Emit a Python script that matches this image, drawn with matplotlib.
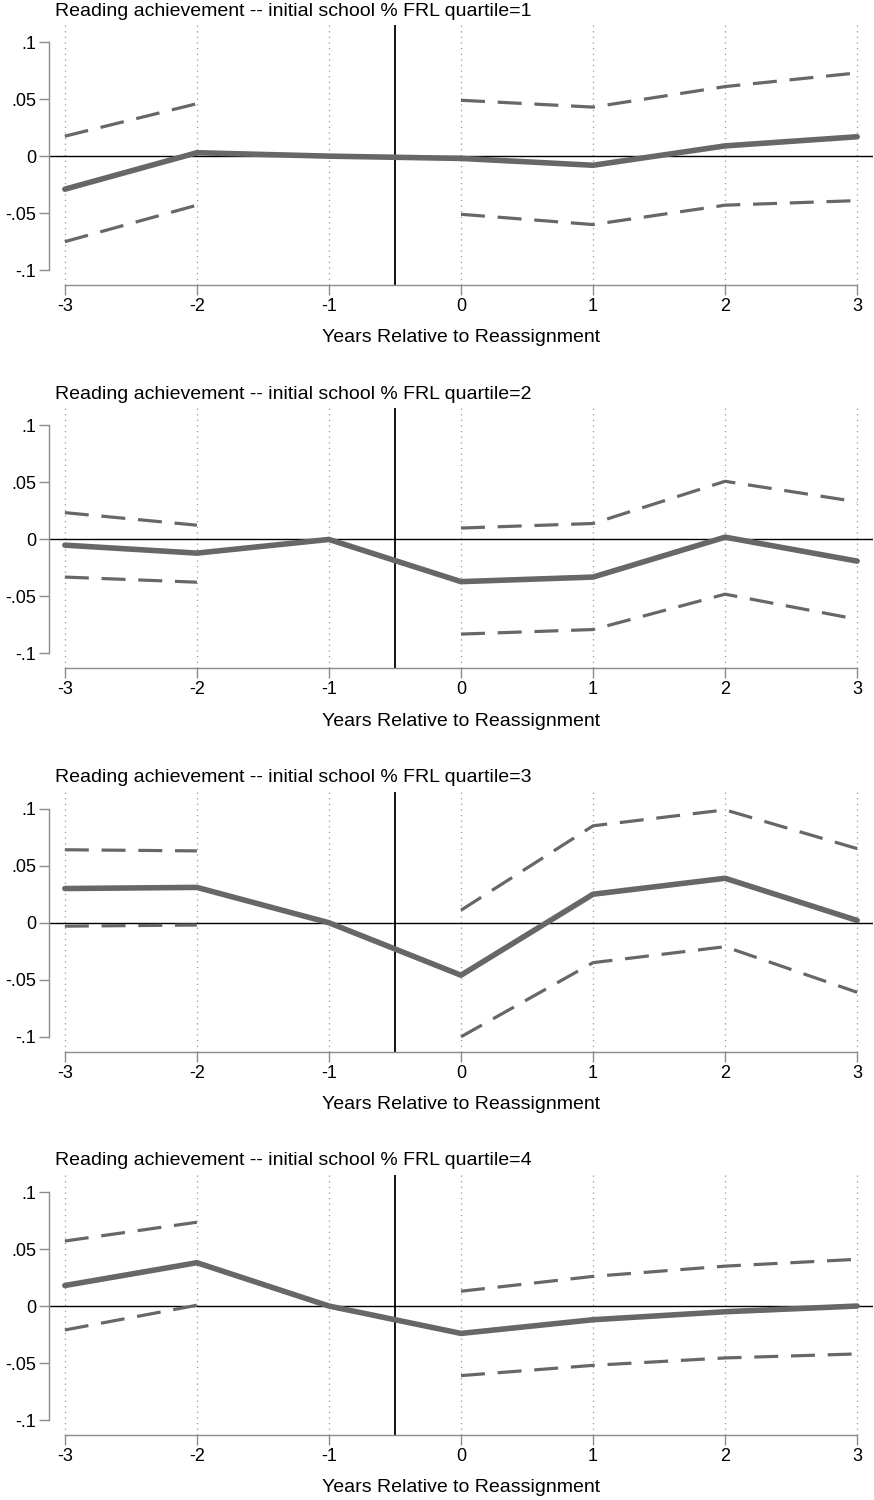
import numpy as np
import matplotlib
matplotlib.use("Agg")
import matplotlib.pyplot as plt

plt.rcParams['font.family'] = ['Liberation Sans', 'DejaVu Sans']

# event-time axis
years = [-3, -2, -1, 0, 1, 2, 3]
nan = np.nan

# point estimates (reference year -1 normalised to 0)
coef_q1 = [-0.029, 0.003, 0.0, -0.002, -0.008, 0.009, 0.017]
coef_q2 = [-0.005, -0.012, 0.0, -0.037, -0.033, 0.002, -0.019]
coef_q3 = [0.030, 0.031, 0.0, -0.046, 0.025, 0.039, 0.002]
coef_q4 = [0.018, 0.038, 0.0, -0.024, -0.012, -0.005, 0.0]

# 95% confidence bounds (none for reference year)
upper_q1 = [0.0175, 0.046, nan, 0.049, 0.043, 0.061, 0.073]
lower_q1 = [-0.075, -0.043, nan, -0.051, -0.060, -0.043, -0.039]
upper_q2 = [0.0235, 0.0125, nan, 0.010, 0.014, 0.051, 0.033]
lower_q2 = [-0.033, -0.0375, nan, -0.083, -0.079, -0.048, -0.070]
upper_q3 = [0.064, 0.063, nan, 0.011, 0.085, 0.099, 0.065]
lower_q3 = [-0.003, -0.002, nan, -0.100, -0.035, -0.021, -0.061]
upper_q4 = [0.057, 0.0735, nan, 0.013, 0.026, 0.035, 0.041]
lower_q4 = [-0.021, 0.0007, nan, -0.061, -0.052, -0.0455, -0.042]

panels = [
    (1, coef_q1, upper_q1, lower_q1),
    (2, coef_q2, upper_q2, lower_q2),
    (3, coef_q3, upper_q3, lower_q3),
    (4, coef_q4, upper_q4, lower_q4),
]

W, H = 874, 1500
fig = plt.figure(figsize=(W / 100, H / 100), dpi=100)

line_grey = '#676767'
axis_grey = '#8c8c8c'

for k, (q, coef, upper, lower) in enumerate(panels):
    top_px = 25 + 383.3 * k
    bot_px = 285 + 383.3 * k
    ax = fig.add_axes([49 / W, 1 - bot_px / H, (873 - 49) / W, (bot_px - top_px) / H])
    ax.set_xlim(-3.12, 3.12)
    ax.set_ylim(-0.113, 0.115)

    for x in years:
        ax.axvline(x, color='#999999', lw=0.9, linestyle=(0, (1, 3.5)), zorder=1)
    ax.axhline(0, color='black', lw=1.0, zorder=2)
    ax.axvline(-0.5, color='black', lw=1.3, zorder=2)

    ax.plot(years, upper, color=line_grey, lw=2.3, dashes=(7.5, 4), zorder=3)
    ax.plot(years, lower, color=line_grey, lw=2.3, dashes=(7.5, 4), zorder=3)
    ax.plot(years, coef, color=line_grey, lw=4.0, solid_capstyle='round', zorder=4)

    for side in ['top', 'right']:
        ax.spines[side].set_visible(False)
    ax.spines['left'].set_bounds(-0.1, 0.1)
    ax.spines['bottom'].set_bounds(-3, 3)
    for side in ['left', 'bottom']:
        ax.spines[side].set_color(axis_grey)
        ax.spines[side].set_linewidth(1.0)

    ax.set_yticks([-0.1, -0.05, 0, 0.05, 0.1])
    ax.set_yticklabels(['-.1', '-.05', '0', '.05', '.1'])
    ax.set_xticks(years)
    ax.set_xticklabels([str(y) for y in years])
    ax.tick_params(axis='y', length=7.5, width=1, color=axis_grey, pad=1.5, labelsize=13)
    ax.tick_params(axis='x', length=7, width=1, color=axis_grey, pad=2.5, labelsize=13)

    ax.text(6 / 824, 1 + 14 / 260,
            f'Reading achievement -- initial school % FRL quartile={q}',
            transform=ax.transAxes, ha='left', va='center', fontsize=14)
    ax.text(0.5, -53 / 260, 'Years Relative to Reassignment',
            transform=ax.transAxes, ha='center', va='center', fontsize=14)

fig.savefig('out.png', dpi=100)
